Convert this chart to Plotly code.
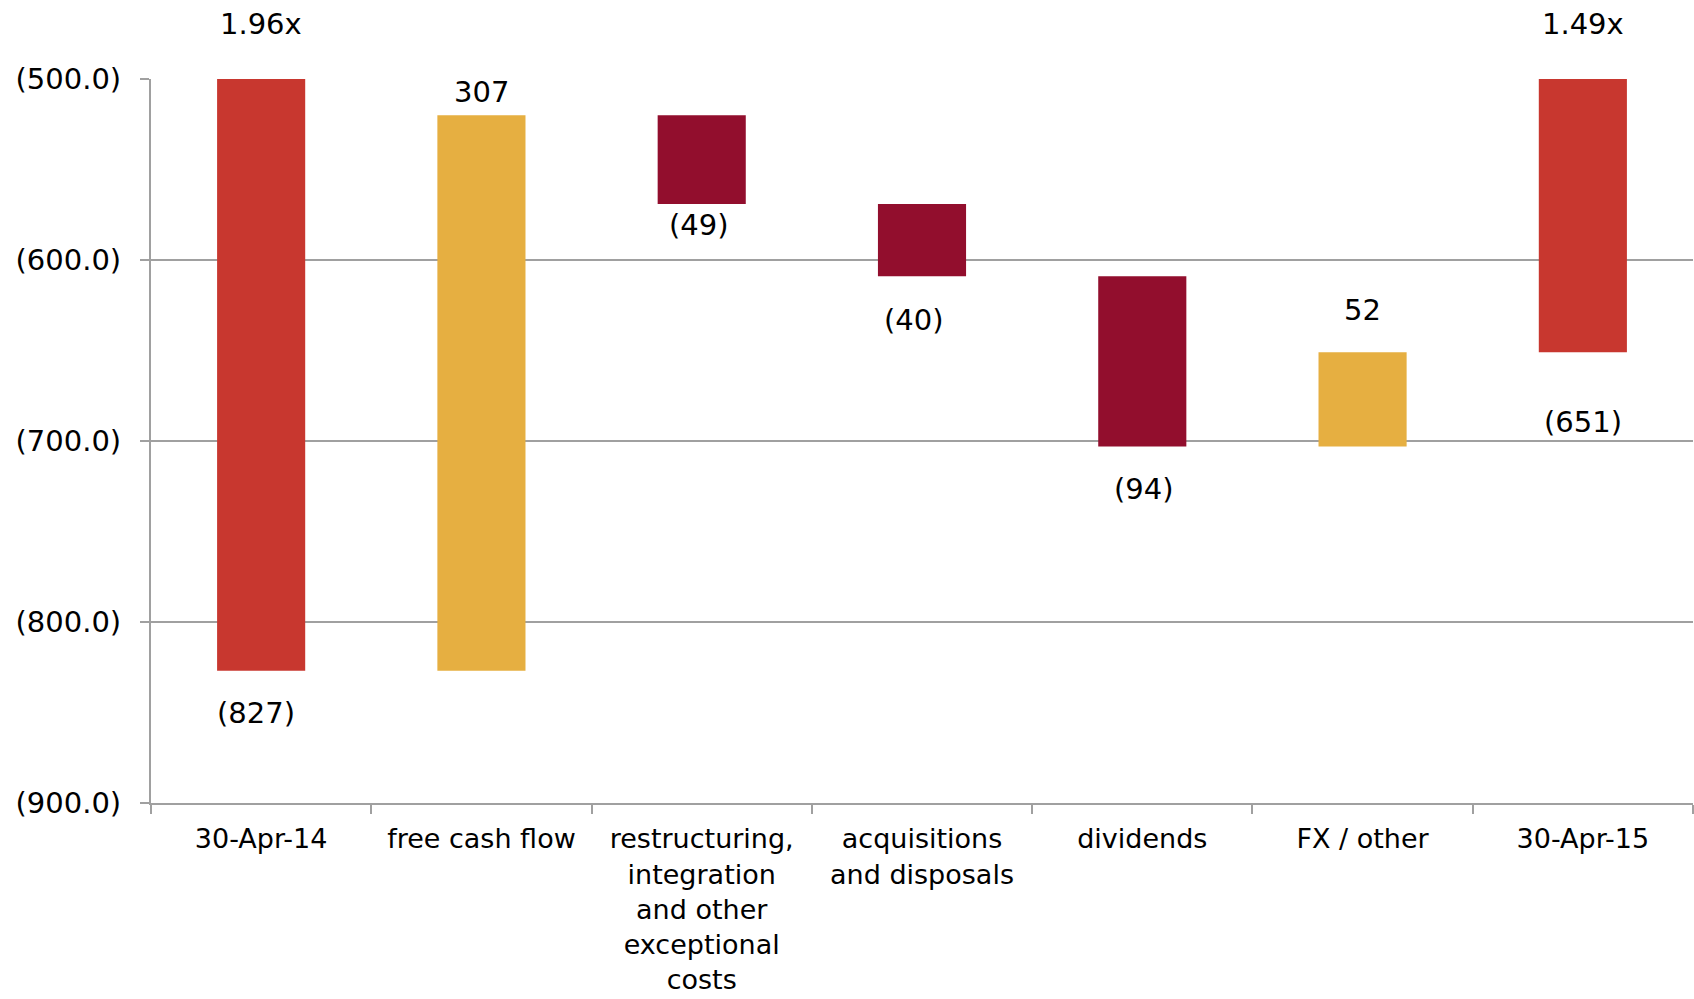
import plotly.graph_objects as go

# ---- data ----
categories = ["30-Apr-14", "free cash flow",
              "restructuring,<br>integration<br>and other<br>exceptional<br>costs",
              "acquisitions<br>and disposals", "dividends", "FX / other", "30-Apr-15"]
values = [-827, 307, -49, -40, -94, 52, -651]
measures = ["absolute", "relative", "relative", "relative", "relative", "relative", "total"]
leverage_labels = ["1.96x", "", "", "", "", "", "1.49x"]
y_ticks = [-900, -800, -700, -600, -500]
y_ticktext = ["(900.0)", "(800.0)", "(700.0)", "(600.0)", "(500.0)"]

# styling
RED = "#C8372F"
GOLD = "#E6AF41"
DARK = "#920E2D"
FONT = "DejaVu Sans"
FS = 29
XFS = 27

fig = go.Figure(go.Waterfall(
    x=categories, y=values, measure=measures,
    increasing=dict(marker=dict(color=GOLD)),
    decreasing=dict(marker=dict(color=DARK)),
    totals=dict(marker=dict(color=RED)),
    connector=dict(visible=False),
    showlegend=False, hoverinfo="skip",
))


def fmt(v):
    return f"({abs(v)})" if v < 0 else f"{v}"


# pixel offsets of value labels relative to the bar end they sit at
shifts = [-42, 23, -21, -44, -43, 42, -70]
x_shifts = [-5, 0, -3, -8, 2, 0, 0]
annotations = []
running = 0
for i, (c, v, m) in enumerate(zip(categories, values, measures)):
    if m == "absolute":
        start, end = 0, v
        running = v
    elif m == "total":
        start, end = 0, running
    else:
        start, end = running, running + v
        running += v
    lo, hi = min(start, end), max(start, end)
    anchor = hi if shifts[i] > 0 else lo
    annotations.append(dict(x=c, y=anchor, xref="x", yref="y", text=fmt(v if m != "total" else running),
                            showarrow=False, yshift=shifts[i], xshift=x_shifts[i],
                            yanchor="middle", font=dict(family=FONT, size=FS, color="#000")))
    if leverage_labels[i]:
        annotations.append(dict(x=c, y=y_ticks[-1], xref="x", yref="y", text=leverage_labels[i],
                                showarrow=False, yshift=55, yanchor="middle",
                                font=dict(family=FONT, size=FS, color="#000")))

fig.update_layout(
    width=1694, height=999,
    margin=dict(l=151, r=1, t=79, b=196),
    paper_bgcolor="white", plot_bgcolor="white",
    waterfallgap=0.6,
    font=dict(family=FONT, size=FS, color="#000"),
    annotations=annotations,
    xaxis=dict(
        type="category", tickson="boundaries", ticks="outside", ticklen=9,
        tickcolor="#a0a0a0", tickwidth=2,
        showline=True, linecolor="#a0a0a0", linewidth=2,
        showgrid=False, tickfont=dict(family=FONT, size=XFS, color="#000"),
        ticklabelstandoff=11, automargin=False,
    ),
    yaxis=dict(
        range=[-900, -500], tickvals=y_ticks, ticktext=y_ticktext,
        ticks="outside", ticklen=9, tickcolor="#a0a0a0", tickwidth=2,
        showline=True, linecolor="#a0a0a0", linewidth=2,
        showgrid=True, gridcolor="#a0a0a0", gridwidth=2,
        zeroline=False, tickfont=dict(family=FONT, size=FS, color="#000"),
        ticklabelstandoff=13, automargin=False,
    ),
)

fig.write_html("out.html")
